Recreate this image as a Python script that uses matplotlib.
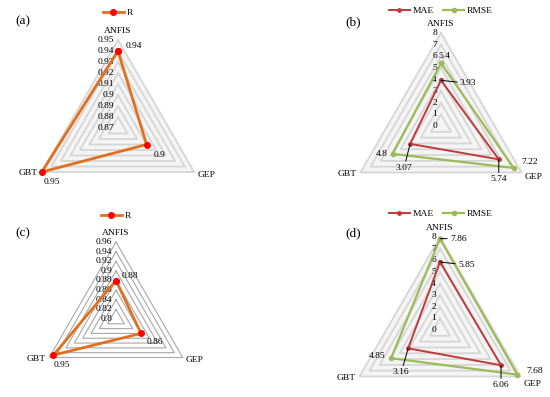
import numpy as np
import matplotlib
matplotlib.use('Agg')
from matplotlib import pyplot as plt

plt.rcParams['font.family'] = ['Liberation Serif', 'DejaVu Serif']

# data
categories = ['ANFIS', 'GEP', 'GBT']
r_a = [0.94, 0.90, 0.95]
mae_b = [3.93, 5.74, 3.07]
rmse_b = [5.40, 7.22, 4.80]
r_c = [0.88, 0.86, 0.95]
mae_d = [5.85, 6.06, 3.16]
rmse_d = [7.86, 7.68, 4.85]

ticks_a = [0.87, 0.88, 0.89, 0.90, 0.91, 0.92, 0.93, 0.94, 0.95]
ticks_b = [0, 1, 2, 3, 4, 5, 6, 7, 8]
ticks_c = [0.80, 0.82, 0.84, 0.86, 0.88, 0.90, 0.92, 0.94, 0.96]
ticks_d = [0, 1, 2, 3, 4, 5, 6, 7, 8]

W, H = 550, 397
FS = 6.8
ORANGE = '#E0701E'
RED = '#C0393B'
GREEN = '#9BBB59'

fig = plt.figure(figsize=(W / 100, H / 100), dpi=100)
theta = np.array([0, 2 * np.pi / 3, 4 * np.pi / 3])
theta_c = np.append(theta, 0)


def px_box(cx, cy, r):
    return [(cx - r) / W, 1 - (cy + r) / H, 2 * r / W, 2 * r / H]


def make_panel(cx, cy, rad, ticks, grid_col, grid_lw, fill_col, gep_dy=-3):
    ax = fig.add_axes(px_box(cx, cy, rad), projection='polar')
    ax.set_theta_offset(np.pi / 2)
    ax.set_theta_direction(-1)
    ax.set_rlim(ticks[0], ticks[-1])
    ax.grid(False)
    ax.set_xticks([])
    ax.set_yticks([])
    ax.spines['polar'].set_visible(False)
    ax.patch.set_alpha(0)
    if fill_col:
        ax.fill(theta_c, [ticks[-1]] * 4, color=fill_col, lw=0, zorder=0)
    for v in ticks[1:]:
        ax.plot(theta_c, [v] * 4, color=grid_col, lw=grid_lw, zorder=1, clip_on=False)
    # tick labels left of the ANFIS spoke
    for v in ticks:
        ax.annotate(f'{v:g}', xy=(0, v), xytext=(-4, 0), textcoords='offset pixels',
                    ha='right', va='center', fontsize=FS, zorder=2)
    top = ticks[-1]
    ax.annotate(categories[0], xy=(0, top), xytext=(0, 5), textcoords='offset pixels',
                ha='center', va='bottom', fontsize=FS)
    ax.annotate(categories[1], xy=(theta[1], top), xytext=(3, gep_dy), textcoords='offset pixels',
                ha='left', va='center', fontsize=FS)
    ax.annotate(categories[2], xy=(theta[2], top), xytext=(-4, -1), textcoords='offset pixels',
                ha='right', va='center', fontsize=FS)
    return ax


def series(ax, vals, color, mcolor, lw, ms, label):
    ax.plot(theta_c, list(vals) + [vals[0]], color=color, lw=lw, marker='o', ms=ms,
            mfc=mcolor, mec=mcolor, label=label, zorder=4, clip_on=False)


def vlabel(ax, i, v, dx, dy, ha='center', leader=False):
    kw = {}
    if leader:
        kw['arrowprops'] = dict(arrowstyle='-', color='black', lw=0.7, shrinkA=0, shrinkB=0)
    ax.annotate(f'{v:g}', xy=(theta[i], v), xytext=(dx, dy), textcoords='offset pixels',
                ha=ha, va='center', fontsize=FS, zorder=5, **kw)


def legend(ax, x, y, ncol):
    fig.legend(*ax.get_legend_handles_labels(), loc='center', bbox_to_anchor=(x / W, 1 - y / H),
               ncol=ncol, frameon=False, fontsize=FS, handlelength=2.2, handletextpad=0.3,
               columnspacing=1.0, borderpad=0)


# (a)
ax = make_panel(118, 128, 88, ticks_a, '#d6d6d6', 1.3, '#f4f4f4')
series(ax, r_a, ORANGE, 'red', 2.0, 4, 'R')
vlabel(ax, 0, r_a[0], 8, 5, 'left')
vlabel(ax, 1, r_a[1], 13, -10)
vlabel(ax, 2, r_a[2], 10, -10)
legend(ax, 118, 13, 1)
fig.text(15 / W, 1 - 21 / H, '(a)', fontsize=9.5, va='center')

# (b)
ax = make_panel(441, 126, 93, ticks_b, '#d6d6d6', 1.3, '#f4f4f4', gep_dy=-5)
series(ax, mae_b, RED, RED, 1.4, 2.5, 'MAE')
series(ax, rmse_b, GREEN, GREEN, 1.6, 3, 'RMSE')
vlabel(ax, 0, rmse_b[0], 3, 7)
vlabel(ax, 0, mae_b[0], 19, -3, 'left', leader=True)
vlabel(ax, 2, mae_b[2], -6, -24, leader=True)
vlabel(ax, 2, rmse_b[2], -5, 0, 'right')
vlabel(ax, 1, mae_b[1], 0, -20, leader=True)
vlabel(ax, 1, rmse_b[1], 8, 6, 'left')
legend(ax, 441, 11, 2)
fig.text(345 / W, 1 - 22 / H, '(b)', fontsize=9.5, va='center')

# (c)
ax = make_panel(116, 319, 77, ticks_c, '#a8a8a8', 0.8, None)
series(ax, r_c, ORANGE, 'red', 2.0, 4, 'R')
vlabel(ax, 0, r_c[0], 6, 4, 'left')
vlabel(ax, 1, r_c[1], 14, -9)
vlabel(ax, 2, r_c[2], 8, -10)
legend(ax, 116, 216, 1)
fig.text(15 / W, 1 - 233 / H, '(c)', fontsize=9.5, va='center')

# (d)
ax = make_panel(440, 330, 93, ticks_d, '#d6d6d6', 1.3, '#f4f4f4', gep_dy=-7)
series(ax, mae_d, RED, RED, 1.4, 2.5, 'MAE')
series(ax, rmse_d, GREEN, GREEN, 1.6, 3, 'RMSE')
vlabel(ax, 0, rmse_d[0], 10, 0, 'left', leader=True)
vlabel(ax, 0, mae_d[0], 18, -3, 'left', leader=True)
vlabel(ax, 2, mae_d[2], -7, -24, leader=True)
vlabel(ax, 2, rmse_d[2], -6, 2, 'right')
vlabel(ax, 1, mae_d[1], 0, -20, leader=True)
vlabel(ax, 1, rmse_d[1], 9, 4, 'left')
legend(ax, 441, 214, 2)
fig.text(345 / W, 1 - 233 / H, '(d)', fontsize=9.5, va='center')

fig.savefig('out.png', dpi=100)
